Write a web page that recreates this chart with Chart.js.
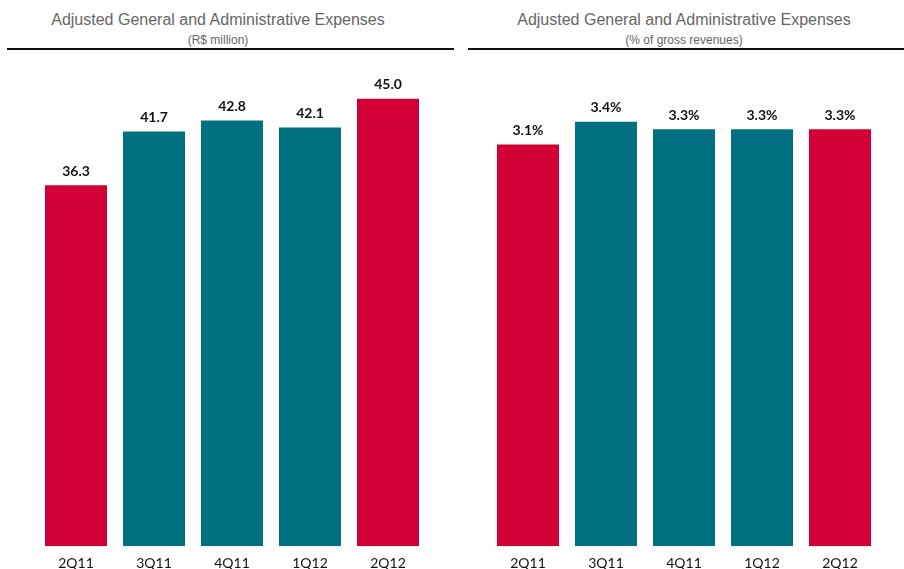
<!DOCTYPE html>
<html>
<head>
<meta charset="utf-8">
<script src="https://cdn.jsdelivr.net/npm/chart.js@4.4.1/dist/chart.umd.min.js"></script>
<style>
  html,body{margin:0;padding:0;background:#fff;}
  body{width:904px;height:569px;position:relative;overflow:hidden;font-family:"Liberation Sans",Arial,sans-serif;}
  .panel{position:absolute;top:0;width:452px;height:569px;}
  .title{position:absolute;top:11px;width:100%;text-align:center;font-size:16px;color:#666;}
  .sub{position:absolute;top:33px;width:100%;text-align:center;font-size:12px;color:#666;}
  .rule{position:absolute;top:48px;height:2px;background:#111;}
  canvas{position:absolute;left:0;top:0;}
</style>
</head>
<body>
<div class="panel" style="left:0">
  <div class="title" style="left:-8px">Adjusted General and Administrative Expenses</div>
  <div class="sub" style="left:-8px">(R$ million)</div>
  <canvas id="left" width="452" height="581"></canvas>
</div>
<div class="panel" style="left:452px">
  <div class="title" style="left:6px">Adjusted General and Administrative Expenses</div>
  <div class="sub" style="left:6px">(% of gross revenues)</div>
  <canvas id="right" width="452" height="581"></canvas>
</div>
<div class="rule" style="left:7px;width:447px"></div>
<div class="rule" style="left:468px;width:436px"></div>
<script>
  const quarters = ['2Q11','3Q11','4Q11','1Q12','2Q12'];
  const expenseValues = [36.3, 41.7, 42.8, 42.1, 45.0];
  // bar heights as drawn; printed labels are rounded
  const pctValues = [3.15, 3.33, 3.27, 3.27, 3.27];
  const pctLabels = ['3.1%','3.4%','3.3%','3.3%','3.3%'];
  const RED = '#D20034', TEAL = '#006F80';
  const barColors = [RED, TEAL, TEAL, TEAL, RED];

  const valueLabels = {
    id:'valueLabels',
    afterDatasetsDraw(c, args, opts){
      const ctx = c.ctx; const meta = c.getDatasetMeta(0);
      ctx.save();
      ctx.fillStyle = '#111'; ctx.textAlign = 'center'; ctx.textBaseline = 'bottom';
      ctx.font = 'bold 14px Lato, "Open Sans", sans-serif';
      meta.data.forEach((b,i)=>{ ctx.fillText(opts.labels[i], b.x, b.y - 7); });
      ctx.restore();
    }
  };

  function make(id, values, labels, max){
    return new Chart(document.getElementById(id), {
      type:'bar',
      data:{ labels: quarters, datasets:[{ data: values, backgroundColor: barColors, borderWidth:0,
        categoryPercentage:1, barPercentage:0.795 }]},
      options:{
        responsive:false, animation:false,
        layout:{ padding:{ left:37, right:25, top:49, bottom:0 } },
        plugins:{ legend:{display:false}, tooltip:{enabled:false}, valueLabels:{ labels } },
        scales:{
          x:{ grid:{display:false, drawTicks:false}, border:{display:false},
              ticks:{ color:'#111', font:{ family:'Lato, "Open Sans", sans-serif', size:14 }, padding:9 } },
          y:{ display:false, min:0, max }
        }
      },
      plugins:[valueLabels]
    });
  }
  make('left', expenseValues, expenseValues.map(v=>v.toFixed(1)), 50);
  make('right', pctValues, pctLabels, 3.9);
</script>
</body>
</html>
